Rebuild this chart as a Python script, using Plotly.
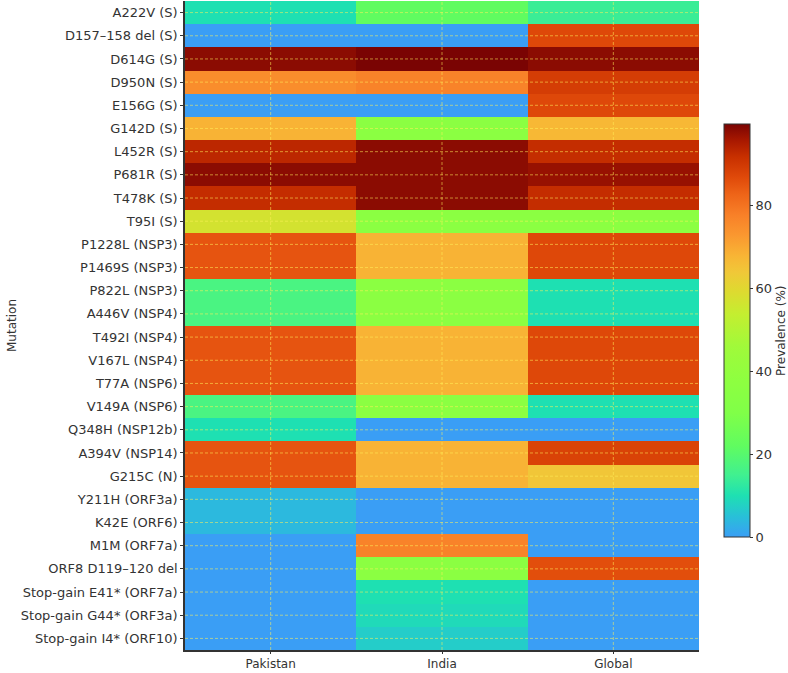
import plotly.graph_objects as go

mutations = [
    "A222V (S)", "D157–158 del (S)", "D614G (S)", "D950N (S)", "E156G (S)",
    "G142D (S)", "L452R (S)", "P681R (S)", "T478K (S)", "T95I (S)",
    "P1228L (NSP3)", "P1469S (NSP3)", "P822L (NSP3)", "A446V (NSP4)",
    "T492I (NSP4)", "V167L (NSP4)", "T77A (NSP6)", "V149A (NSP6)",
    "Q348H (NSP12b)", "A394V (NSP14)", "G215C (N)", "Y211H (ORF3a)",
    "K42E (ORF6)", "M1M (ORF7a)", "ORF8 D119–120 del",
    "Stop-gain E41* (ORF7a)", "Stop-gain G44* (ORF3a)", "Stop-gain I4* (ORF10)",
]
regions = ["Pakistan", "India", "Global"]

pakistan = [10, 0, 98, 75, 0, 68, 93, 98, 92, 57, 85, 85, 17, 17, 85, 85, 85, 17,
            10, 85, 85, 4, 4, 0, 0, 0, 0, 0]
india = [22, 0, 99.5, 77, 0, 36, 98, 98, 98, 36, 68, 68, 36, 36, 68, 68, 68, 36,
         0, 68, 68, 0, 0, 77, 36, 10, 9, 7]
global_ = [14, 87, 98, 89, 87, 67, 92, 97, 92, 36, 87, 87, 10, 10, 87, 87, 87, 10,
           0, 88, 64, 0, 0, 0, 86, 0, 0, 0]

z = [[p, i, g] for p, i, g in zip(pakistan, india, global_)]

colorscale = [
    [0.00, "#3a9ef5"], [0.05, "#28c0d8"], [0.10, "#1ee0b2"], [0.15, "#40f090"],
    [0.22, "#60fc60"], [0.30, "#80ff48"], [0.38, "#8eff40"], [0.46, "#a0fa3a"],
    [0.54, "#c4ee30"], [0.60, "#e0d830"], [0.64, "#f0c838"], [0.68, "#f8b535"],
    [0.73, "#fa9830"], [0.78, "#f88028"], [0.83, "#ee6418"], [0.87, "#e04a0a"],
    [0.92, "#c83000"], [0.96, "#a81800"], [1.00, "#7a0403"],
]

fig = go.Figure()
fig.add_trace(go.Heatmap(
    z=z, x=regions, y=mutations, zmin=0, zmax=99.5,
    colorscale=colorscale,
    colorbar=dict(
        title=dict(text="Prevalence (%)", side="right",
                   font=dict(family="DejaVu Sans", size=12, color="#333")),
        tickvals=[0, 20, 40, 60, 80],
        ticks="outside", ticklen=3, tickcolor="#333",
        tickfont=dict(family="DejaVu Sans", size=13, color="#333"),
        thickness=26, thicknessmode="pixels",
        len=413, lenmode="pixels",
        x=1.046, xanchor="left", y=0.492, yanchor="middle", ypad=0, xpad=0,
        outlinecolor="#333", outlinewidth=1,
    ),
    hovertemplate="%{y} | %{x}: %{z}%<extra></extra>",
))

grid = dict(color="rgba(255,240,90,0.55)", width=1, dash="3px,2px")
for i, _ in enumerate(mutations):
    fig.add_shape(type="line", xref="paper", x0=0, x1=1, yref="y", y0=i, y1=i,
                  line=grid, layer="above")
for j, _ in enumerate(regions):
    fig.add_shape(type="line", yref="paper", y0=0, y1=1, xref="x", x0=j, x1=j,
                  line=grid, layer="above")

fig.update_layout(
    width=788, height=673,
    margin=dict(l=185, r=88, t=1, b=23),
    paper_bgcolor="white", plot_bgcolor="white",
    font=dict(family="DejaVu Sans", size=13, color="#333"),
)
fig.update_xaxes(
    showgrid=False, showline=True, linecolor="#333", linewidth=1.5,
    ticks="outside", ticklen=2, tickcolor="#333",
    tickfont=dict(size=12, color="#333"), automargin=False,
)
fig.update_yaxes(
    autorange="reversed", showgrid=False, showline=True, linecolor="#333",
    linewidth=1.5, ticks="outside", ticklen=3, tickcolor="#333",
    tickfont=dict(size=13, color="#333"), automargin=False,
    title=dict(text="Mutation", standoff=2, font=dict(size=12, color="#333")),
)

fig.write_html("out.html")
